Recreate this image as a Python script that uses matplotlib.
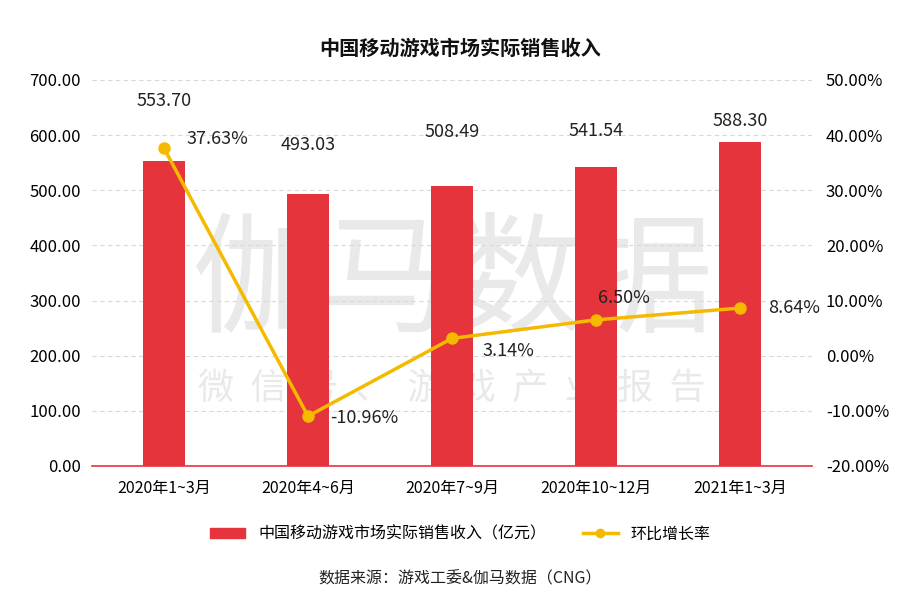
import matplotlib.pyplot as plt
import numpy as np

plt.rcParams['font.family'] = ['Noto Sans CJK SC', 'DejaVu Sans']

# data
quarters = ['2020年1~3月', '2020年4~6月', '2020年7~9月', '2020年10~12月', '2021年1~3月']
revenue = [553.70, 493.03, 508.49, 541.54, 588.30]
growth = [37.63, -10.96, 3.14, 6.50, 8.64]

# label placement (hand tuned, like the original)
rev_label_y = [662, 582, 606, 607, 626]
growth_offsets = [(22, 9), (22, -2), (30, -13), (2, 22), (28, 0)]

bar_color = '#E5343B'
line_color = '#F5BA00'

fig = plt.figure(figsize=(9.21, 5.97), dpi=100)
ax = fig.add_axes([92/921, 1-466/597, 720/921, 386/597])
ax.set_facecolor('none')
ax2 = ax.twinx()

x = np.arange(len(quarters))
ax.bar(x, revenue, width=0.29, color=bar_color, zorder=2)
ax.set_xlim(-0.5, len(quarters) - 0.5)
ax.set_ylim(0, 700)
ax.set_yticks(np.arange(0, 701, 100))
ax.set_yticklabels(['%.2f' % v for v in np.arange(0, 701, 100)], fontsize=12)
ax.set_xticks(x)
ax.set_xticklabels(quarters, fontsize=11.5)
ax.tick_params(length=0, pad=8)
ax.tick_params(axis='x', pad=10)
ax.grid(axis='y', color='#d9d9d9', linestyle=(0, (4, 3)), linewidth=0.8, zorder=0)
for s in ['top', 'left', 'right']:
    ax.spines[s].set_visible(False)
ax.spines['bottom'].set_color(bar_color)
ax.spines['bottom'].set_linewidth(1.2)

for xi, v, ly in zip(x, revenue, rev_label_y):
    ax.text(xi, ly, '%.2f' % v, ha='center', va='center', fontsize=13, color='#222222', zorder=5)

ax2.plot(x, growth, color=line_color, linewidth=2.5, marker='o', markersize=8, zorder=3)
ax2.set_ylim(-20, 50)
ax2.set_yticks(np.arange(-20, 51, 10))
ax2.set_yticklabels(['%.2f%%' % v for v in np.arange(-20, 51, 10)], fontsize=12)
ax2.tick_params(length=0, pad=10)
for s in ['top', 'left', 'right', 'bottom']:
    ax2.spines[s].set_visible(False)

for xi, g, off in zip(x, growth, growth_offsets):
    ax2.annotate('%.2f%%' % g, (xi, g), xytext=off, textcoords='offset pixels',
                 ha='left', va='center', fontsize=13, color='#222222')

# watermark
ax.text(0.5, 0.47, '伽马数据', transform=ax.transAxes, ha='center', va='center',
        fontsize=94, color='#e9e9e9', zorder=1)
ax.text(0.5, 0.2, '微  信  号  、  游  戏  产  业  报  告', transform=ax.transAxes, ha='center',
        va='center', fontsize=26, color='#e9e9e9', zorder=1)

fig.text(0.5, 1-48/597, '中国移动游戏市场实际销售收入', ha='center', va='center',
         fontsize=14.5, fontweight='bold', color='#111111')

from matplotlib.patches import Patch
from matplotlib.lines import Line2D
handles = [Patch(color=bar_color),
           Line2D([0], [0], color=line_color, linewidth=2.5, marker='o', markersize=6)]
fig.legend(handles, ['中国移动游戏市场实际销售收入（亿元）', '环比增长率'],
           loc='center', bbox_to_anchor=(0.5, 1-534/597), ncol=2, frameon=False,
           fontsize=11.5, columnspacing=2.3, handlelength=2.2, handleheight=0.6)

fig.text(0.5, 1-579/597, '数据来源：游戏工委&伽马数据（CNG）', ha='center', va='center',
         fontsize=11.5, color='#222222')

fig.savefig('out.png', dpi=100)
